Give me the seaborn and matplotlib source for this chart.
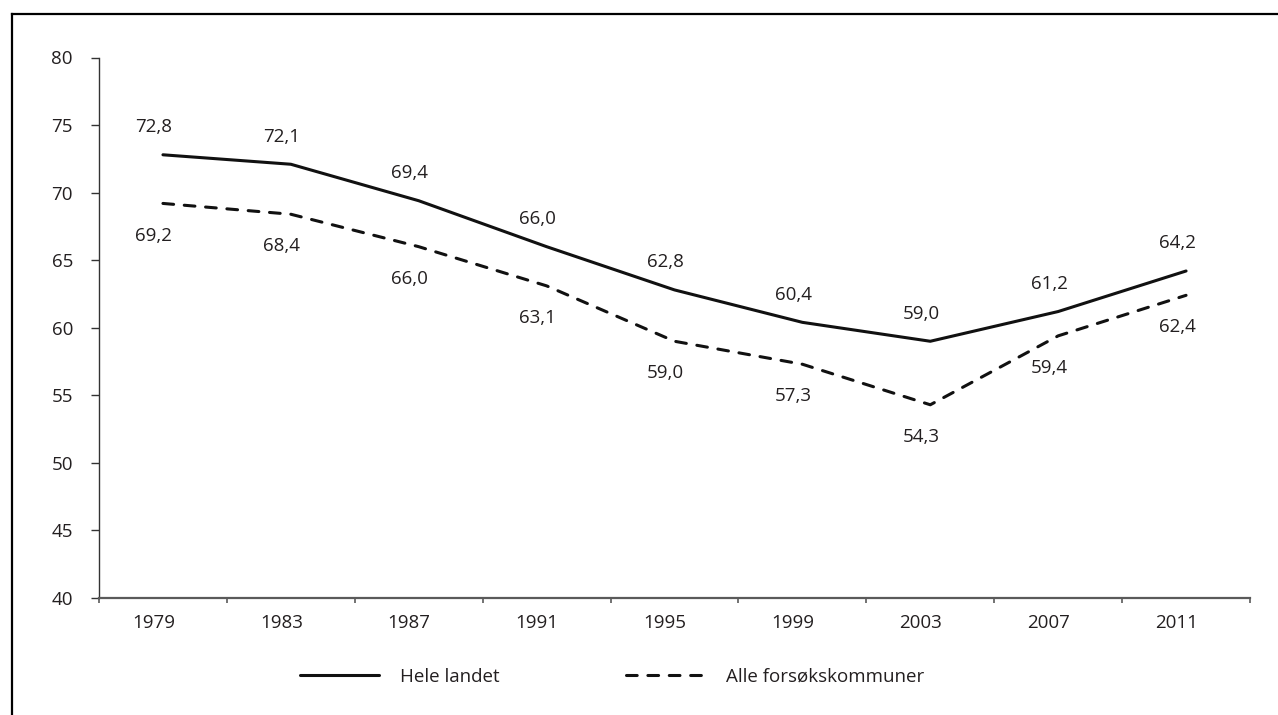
import numpy as np
import pandas as pd
import matplotlib
matplotlib.use("Agg")
import matplotlib.pyplot as plt
from matplotlib.lines import Line2D
import seaborn as sns

# Valgdeltakelse ved kommunestyrevalg, prosent
years = ["1979", "1983", "1987", "1991", "1995", "1999", "2003", "2007", "2011"]
hele_landet = [72.8, 72.1, 69.4, 66.0, 62.8, 60.4, 59.0, 61.2, 64.2]
forsok = [69.2, 68.4, 66.0, 63.1, 59.0, 57.3, 54.3, 59.4, 62.4]
series_names = ["Hele landet", "Alle forsøkskommuner"]
y_ticks = [40, 45, 50, 55, 60, 65, 70, 75, 80]

sns.set_theme(style="white")
plt.rcParams["font.family"] = ["Open Sans", "DejaVu Sans"]
plt.rcParams["lines.dash_capstyle"] = "round"
plt.rcParams["lines.solid_capstyle"] = "round"

TXT = "#231f20"
LINE = "#111111"
FS = 13.5

pos = np.arange(len(years))
df = pd.DataFrame({
    "pos": np.concatenate([pos, pos]),
    "value": hele_landet + forsok,
    "serie": [series_names[0]] * len(years) + [series_names[1]] * len(years),
})

W, H = 1278, 715
fig = plt.figure(figsize=(W / 100, H / 100), dpi=100)
ax = fig.add_axes([99 / W, 1 - 598 / H, (1250 - 99) / W, (598 - 57.5) / H])

dash_map = {series_names[0]: "", series_names[1]: (3.5, 3.5)}
sns.lineplot(data=df, x="pos", y="value", style="serie", style_order=series_names,
             dashes=dash_map, color=LINE, linewidth=2.2, legend=False, ax=ax)

# Value labels: solid series above, dashed series below
for i, v in enumerate(hele_landet):
    ax.annotate(f"{v:.1f}".replace(".", ","), (pos[i], v), xytext=(-6.5, 16.2),
                textcoords="offset points", ha="center", va="baseline",
                fontsize=FS, color=TXT)
for i, v in enumerate(forsok):
    ax.annotate(f"{v:.1f}".replace(".", ","), (pos[i], v), xytext=(-6.5, -26.7),
                textcoords="offset points", ha="center", va="baseline",
                fontsize=FS, color=TXT)

ax.set_xlim(-0.5, len(years) - 0.5)
ax.set_ylim(40, 80)
ax.set_yticks(y_ticks)
ax.set_yticklabels([str(t) for t in y_ticks])
ax.set_xticks(pos - 0.074)
ax.set_xticklabels(years)
ax.set_xticks(np.arange(-0.5, len(years), 1.0), minor=True)
ax.set_xlabel("")
ax.set_ylabel("")

for s in ["top", "right"]:
    ax.spines[s].set_visible(False)
ax.spines["left"].set_color("#333333")
ax.spines["left"].set_linewidth(1.0)
ax.spines["bottom"].set_color("#5a5a5a")
ax.spines["bottom"].set_linewidth(1.6)

ax.tick_params(axis="y", which="major", direction="out", length=5.8, width=1.0,
               color="#333333", pad=13, labelsize=FS, labelcolor=TXT, left=True)
ax.tick_params(axis="x", which="major", length=0, pad=11.5, labelsize=FS, labelcolor=TXT)
ax.tick_params(axis="x", which="minor", direction="out", length=3.6, width=1.2,
               color="#5a5a5a", bottom=True)

handles = [
    Line2D([], [], color=LINE, linewidth=2.2, linestyle="-"),
    Line2D([], [], color=LINE, linewidth=2.2, dashes=(3.5, 3.5)),
]
fig.legend(handles, series_names, loc="center left",
           bbox_to_anchor=(300 / W, 1 - 677 / H), bbox_transform=fig.transFigure,
           ncol=2, frameon=False, fontsize=FS, labelcolor=TXT,
           handlelength=4.2, handletextpad=1.12, columnspacing=6.75,
           borderpad=0, borderaxespad=0)

# Frame lines along the top and left edge
fig.add_artist(Line2D([12 / W, 12 / W], [0, 1 - 14 / H], transform=fig.transFigure,
                      color="black", linewidth=1.6, solid_capstyle="projecting"))
fig.add_artist(Line2D([12 / W, 1], [1 - 14 / H, 1 - 14 / H], transform=fig.transFigure,
                      color="black", linewidth=1.6, solid_capstyle="projecting"))

fig.savefig("out.png", dpi=100, facecolor="white")
